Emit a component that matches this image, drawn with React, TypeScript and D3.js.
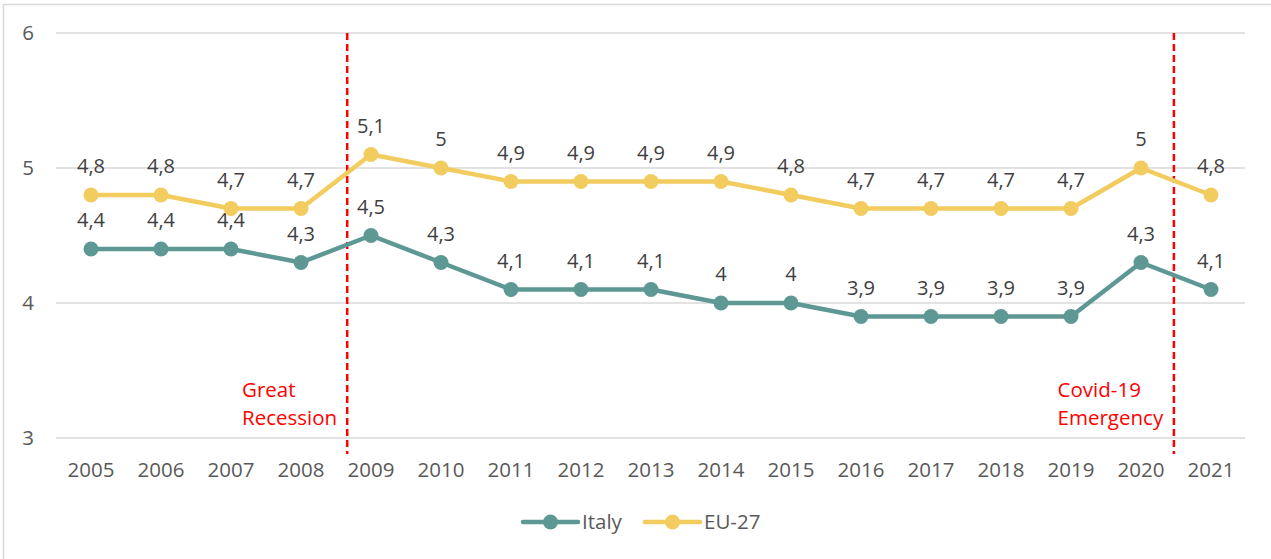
import React from "react";
import * as d3 from "d3";

const years = ["2005","2006","2007","2008","2009","2010","2011","2012","2013","2014","2015","2016","2017","2018","2019","2020","2021"];
const italy = [4.4,4.4,4.4,4.3,4.5,4.3,4.1,4.1,4.1,4.0,4.0,3.9,3.9,3.9,3.9,4.3,4.1];
const eu27 = [4.8,4.8,4.7,4.7,5.1,5.0,4.9,4.9,4.9,4.9,4.8,4.7,4.7,4.7,4.7,5.0,4.8];
const yTicks = [3,4,5,6];
const seriesNames = ["Italy","EU-27"];
const seriesColors = ["#5E9895","#F2CC5E"];
const events = [
  { label: ["Great","Recession"], after: 3, frac: 0.66 },
  { label: ["Covid-19","Emergency"], after: 15, frac: 0.47 },
];

const W = 1271, H = 559;
const FONT = "'Open Sans', sans-serif";

function EventLabel({ ex, lines }: { ex: number; lines: string[] }) {
  const ref = React.useRef<SVGGElement>(null);
  const [w, setW] = React.useState(100);
  React.useLayoutEffect(() => {
    if (ref.current) setW(ref.current.getBBox().width);
  }, []);
  return (
    <g ref={ref} transform={`translate(${ex - 10 - w},0)`}>
      <text x={0} y={397} fontSize={20.5} fill="#FF0000">{lines[0]}</text>
      <text x={0} y={425} fontSize={20.5} fill="#FF0000">{lines[1]}</text>
    </g>
  );
}

export default function App() {
  const x = d3.scaleBand<string>().domain(years).range([56, 1246]);
  const y = d3.scaleLinear().domain([3, 6]).range([438, 33]);
  const cx = (i: number) => (x(years[i]) as number) + x.bandwidth() / 2;
  const line = d3.line<number>().x((_, i) => cx(i)).y(v => y(v));
  const fmt = (v: number) => String(v).replace(".", ",");
  const data = [italy, eu27];

  return (
    <svg width={W} height={H} style={{ position: "absolute", left: 0, top: 0, fontFamily: FONT }}>
      <rect x={0} y={0} width={W} height={H} fill="#fff" />
      <rect x={3.5} y={4.5} width={W + 10} height={H + 10} fill="none" stroke="#d9d9d9" strokeWidth={1.5} />
      {yTicks.map(t => (
        <g key={t}>
          <line x1={56} x2={1245} y1={y(t)} y2={y(t)} stroke="#d9d9d9" strokeWidth={1.5} />
          <text x={34} y={y(t)} dy="0.36em" textAnchor="end" fontSize={20.5} fill="#595959">{t}</text>
        </g>
      ))}
      {years.map((yr, i) => (
        <text key={yr} x={cx(i)} y={477} textAnchor="middle" fontSize={20.5} fill="#595959">{yr}</text>
      ))}
      {events.map((e, k) => {
        const ex = cx(e.after) + x.step() * e.frac;
        return (
          <g key={k}>
            <line x1={ex} x2={ex} y1={33} y2={454} stroke="#FF0000" strokeWidth={2.5} strokeDasharray="7,4" />
            <EventLabel ex={ex} lines={e.label} />
          </g>
        );
      })}
      {data.map((vals, s) => (
        <g key={s}>
          <path d={line(vals) as string} fill="none" stroke={seriesColors[s]} strokeWidth={4.5} strokeLinejoin="round" />
          {vals.map((v, i) => (
            <circle key={i} cx={cx(i)} cy={y(v)} r={7.5} fill={seriesColors[s]} />
          ))}
          {vals.map((v, i) => (
            <text key={"t" + i} x={cx(i)} y={y(v) - 22} textAnchor="middle" fontSize={20} fill="#404040">{fmt(v)}</text>
          ))}
        </g>
      ))}
      {seriesNames.map((n, s) => {
        const lx = s === 0 ? 523 : 645;
        return (
          <g key={n}>
            <line x1={lx} x2={lx + 55} y1={522} y2={522} stroke={seriesColors[s]} strokeWidth={4.5} strokeLinecap="round" />
            <circle cx={lx + 27.5} cy={522} r={7.5} fill={seriesColors[s]} />
            <text x={lx + 59} y={522} dy="0.36em" fontSize={20.5} fill="#595959">{n}</text>
          </g>
        );
      })}
    </svg>
  );
}
